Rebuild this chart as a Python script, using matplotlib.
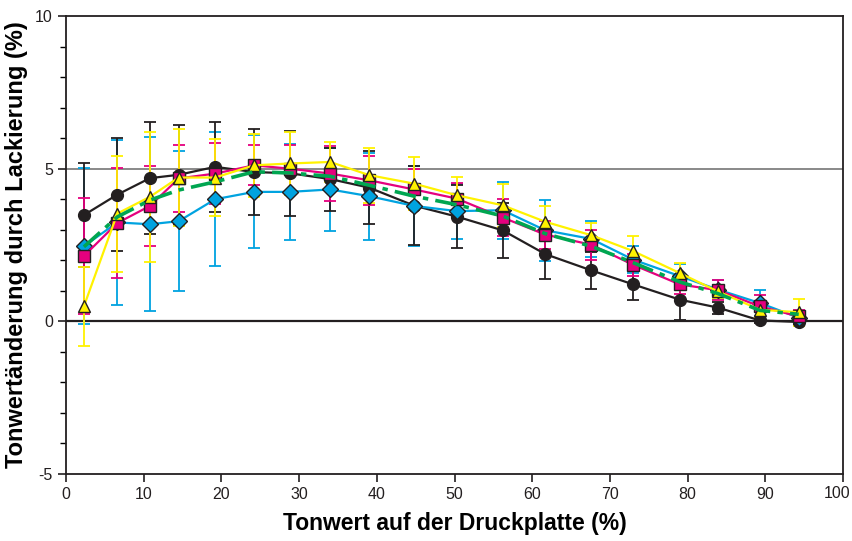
"""Tonwertänderung durch Lackierung – recreation of the reference chart."""

import matplotlib
matplotlib.use("Agg")
import matplotlib.pyplot as plt
from matplotlib.ticker import MultipleLocator, FixedLocator, FixedFormatter

# Tonwert auf der Druckplatte (%)
tonwert = [2.3, 6.6, 10.8, 14.5, 19.2, 24.2, 28.8, 34.0, 39.0, 44.8,
           50.3, 56.2, 61.7, 67.6, 73.0, 79.0, 83.9, 89.3, 94.3]

black = [3.48, 4.15, 4.69, 4.80, 5.06, 4.89, 4.85, 4.66, 4.38, 3.79,
         3.43, 2.98, 2.20, 1.67, 1.21, 0.71, 0.45, 0.03, -0.02]
black_err = [1.70, 1.85, 1.84, 1.63, 1.47, 1.40, 1.40, 1.03, 1.20, 1.30,
             1.04, 0.89, 0.82, 0.60, 0.51, 0.68, 0.20, 0.10, 0.10]

magenta = [2.14, 3.22, 3.78, 4.68, 4.84, 5.11, 5.00, 4.84, 4.62, 4.32,
           4.02, 3.40, 2.84, 2.51, 1.85, 1.21, 1.02, 0.49, 0.16]
magenta_err = [1.90, 1.80, 1.32, 1.10, 1.00, 0.66, 0.77, 0.90, 0.80, 0.68,
               0.50, 0.60, 0.46, 0.49, 0.35, 0.30, 0.32, 0.38, 0.20]

cyan = [2.46, 3.24, 3.18, 3.28, 4.00, 4.24, 4.24, 4.32, 4.10, 3.78,
        3.61, 3.64, 2.98, 2.70, 2.02, 1.48, 1.04, 0.60, 0.12]
cyan_err = [2.55, 2.70, 2.85, 2.30, 2.20, 1.85, 1.58, 1.36, 1.42, 1.31,
            0.90, 0.93, 1.00, 0.60, 0.45, 0.40, 0.30, 0.44, 0.20]

yellow = [0.49, 3.53, 4.08, 4.71, 4.71, 5.11, 5.17, 5.22, 4.79, 4.51,
          4.13, 3.80, 3.26, 2.82, 2.30, 1.58, 0.98, 0.38, 0.30]
yellow_err = [1.30, 1.90, 2.13, 1.60, 1.27, 1.03, 1.04, 0.66, 0.90, 0.86,
              0.60, 0.71, 0.52, 0.40, 0.50, 0.33, 0.20, 0.25, 0.44]

green = [2.44, 3.42, 3.97, 4.30, 4.57, 4.90, 4.86, 4.75, 4.46, 4.10,
         3.82, 3.45, 2.87, 2.46, 1.92, 1.29, 0.91, 0.36, 0.23]

x_ticks = [0, 10, 20, 30, 40, 50, 60, 70, 80, 90, 100]
x_tick_labels = ["0", "10", "20", "30", "40", "50", "60", "70", "80", "90", ""]
last_x_label = "100"

C_BLACK = "#231f20"
C_MAGENTA = "#e5007e"
C_CYAN = "#00a3e0"
C_YELLOW = "#fff200"
C_GREEN = "#00a651"

plt.rcParams["font.family"] = ["Liberation Sans", "DejaVu Sans"]
plt.rcParams["axes.unicode_minus"] = False

fig = plt.figure(figsize=(8.53, 5.41), dpi=100)
ax = fig.add_axes([0.0774, 0.1238, 0.9109, 0.8466])

# reference lines
ax.axhline(5, color="#808080", lw=1.3, zorder=1)
ax.axhline(0, color=C_BLACK, lw=1.6, zorder=1)

# error bars
for vals, err, col in [(cyan, cyan_err, C_CYAN),
                       (black, black_err, C_BLACK),
                       (magenta, magenta_err, C_MAGENTA),
                       (yellow, yellow_err, C_YELLOW)]:
    ax.errorbar(tonwert, vals, yerr=err, fmt="none", ecolor=col,
                elinewidth=1.3, capsize=4, capthick=1.3, zorder=2)

# series lines with markers
ax.plot(tonwert, black, color=C_BLACK, lw=1.6, marker="o", ms=8.5,
        mfc=C_BLACK, mec=C_BLACK, zorder=4)
ax.plot(tonwert, cyan, color=C_CYAN, lw=1.6, marker="D", ms=8,
        mfc=C_CYAN, mec=C_BLACK, mew=1.0, zorder=5)
ax.plot(tonwert, magenta, color=C_MAGENTA, lw=1.6, marker="s", ms=8,
        mfc=C_MAGENTA, mec=C_BLACK, mew=1.0, zorder=5)
ax.plot(tonwert, yellow, color=C_YELLOW, lw=1.6, marker="^", ms=9,
        mfc=C_YELLOW, mec=C_BLACK, mew=1.0, zorder=6)
ax.plot(tonwert, green, color=C_GREEN, lw=2.6, ls=(0, (6, 2, 1.5, 2)),
        zorder=7)

ax.set_xlim(0, 100)
ax.set_ylim(-5, 10)
ax.xaxis.set_major_locator(FixedLocator(x_ticks))
ax.xaxis.set_major_formatter(FixedFormatter(x_tick_labels))
ax.yaxis.set_major_locator(MultipleLocator(5))
ax.yaxis.set_minor_locator(MultipleLocator(1))
ax.tick_params(axis="both", which="major", direction="out", length=6,
               width=1.2, colors=C_BLACK, labelsize=11.5)
ax.tick_params(axis="y", which="minor", direction="out", length=4, width=1.0)

# "100" is nudged left so it stays inside the figure, as in the reference
ax.annotate(last_x_label, xy=(x_ticks[-1], 0),
            xycoords=("data", "axes fraction"),
            xytext=(-4, -8.3), textcoords="offset points",
            ha="center", va="top", fontsize=11.5, color=C_BLACK)

for side in ax.spines.values():
    side.set_linewidth(1.3)
    side.set_color(C_BLACK)

ax.set_xlabel("Tonwert auf der Druckplatte (%)", fontsize=16.5,
              fontweight="bold", labelpad=7)
ax.set_ylabel("Tonwertänderung durch Lackierung (%)", fontsize=17,
              fontweight="bold", labelpad=5)

fig.savefig("out.png", dpi=100)
